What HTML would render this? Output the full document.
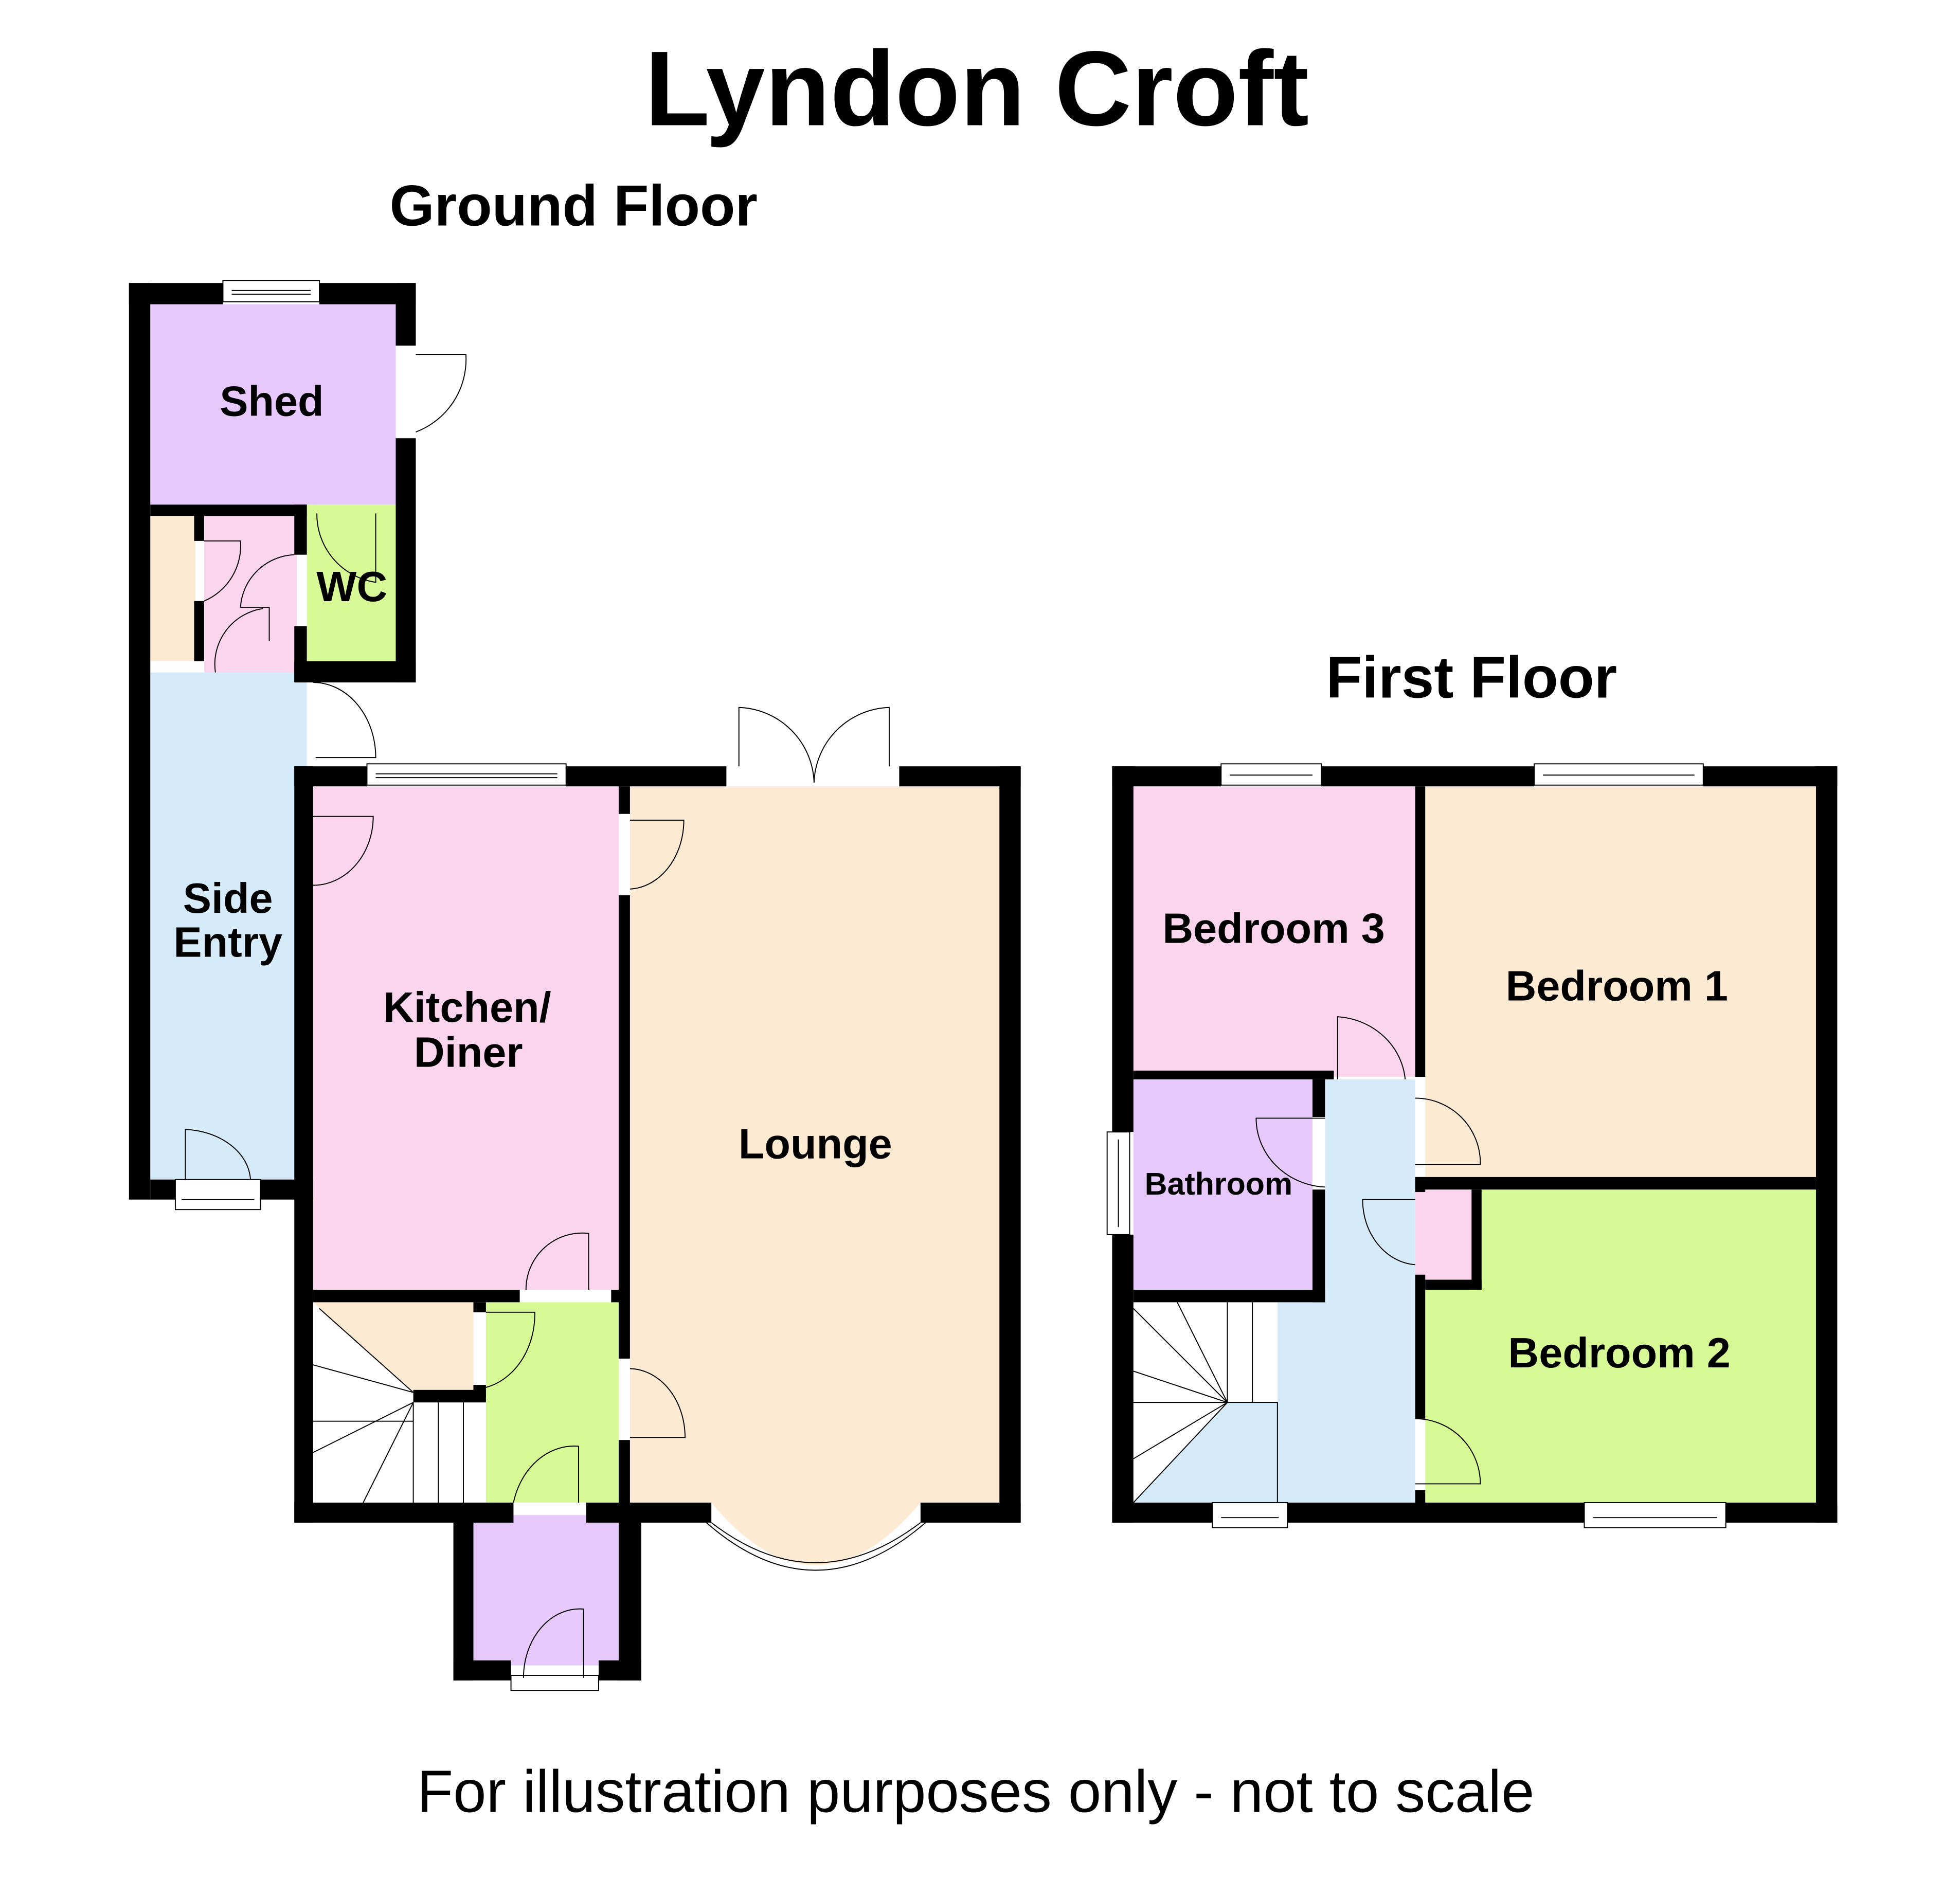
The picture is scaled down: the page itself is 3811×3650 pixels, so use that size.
<!DOCTYPE html>
<html><head><meta charset="utf-8"><style>
html,body{margin:0;padding:0;background:#fff;}
svg{display:block;}
text{font-family:"Liberation Sans",Arial,sans-serif;}
</style></head><body>
<svg width="3811" height="3650" viewBox="0 0 1565 1499" preserveAspectRatio="none" xmlns="http://www.w3.org/2000/svg">
<rect width="1565" height="1499" fill="#fff"/>
<text x="780" y="100" font-size="85" font-weight="bold" text-anchor="middle">Lyndon Croft</text>
<text x="458" y="180" font-size="46" font-weight="bold" text-anchor="middle">Ground Floor</text>
<text x="1175" y="557" font-size="47" font-weight="bold" text-anchor="middle">First Floor</text>
<text x="779" y="1447" font-size="47.5" text-anchor="middle">For illustration purposes only - not to scale</text>

<g stroke="none">
<rect x="120" y="243" width="196" height="160" fill="#e6c8fa"/>
<rect x="120" y="412" width="36" height="116" fill="#fcebd2"/>
<rect x="163" y="412" width="74" height="126" fill="#fbd5ee"/>
<rect x="245" y="403" width="71" height="125" fill="#d8fa96"/>
<rect x="120" y="537" width="125" height="405" fill="#d5ebfa"/>
<rect x="250" y="628" width="244" height="402" fill="#fbd5ee"/>
<rect x="503" y="628" width="295" height="572" fill="#fcebd2"/>
<rect x="250" y="1040" width="138" height="160" fill="#fff"/>
<path d="M250 1040 H378 V1112 H330 Z" fill="#fcebd2"/>
<rect x="388" y="1040" width="106" height="160" fill="#d8fa96"/>
<rect x="378" y="1210" width="116" height="120" fill="#e6c8fa"/>
<path d="M568 1200 Q651 1300 735 1200 Z" fill="#fcebd2"/>

<g fill="#000">
<rect x="103" y="226" width="17" height="732"/>
<rect x="103" y="226" width="75" height="17"/>
<rect x="255" y="226" width="77" height="17"/>
<rect x="316" y="226" width="16" height="50"/>
<rect x="316" y="350" width="16" height="195"/>
<rect x="120" y="403" width="125" height="9"/>
<rect x="155" y="412" width="8" height="20"/>
<rect x="155" y="480" width="8" height="48"/>
<rect x="235" y="403" width="10" height="40"/>
<rect x="235" y="500" width="10" height="45"/>
<rect x="235" y="528" width="97" height="17"/>
<rect x="120" y="942" width="20" height="16"/>
<rect x="208" y="942" width="42" height="16"/>
<rect x="235" y="612" width="15" height="604"/>
<rect x="235" y="612" width="58" height="16"/>
<rect x="452" y="612" width="128" height="16"/>
<rect x="718" y="612" width="97" height="16"/>
<rect x="798" y="612" width="17" height="604"/>
<rect x="494" y="628" width="9" height="22"/>
<rect x="494" y="715" width="9" height="370"/>
<rect x="494" y="1150" width="9" height="60"/>
<rect x="250" y="1030" width="165" height="10"/>
<rect x="488" y="1030" width="10" height="10"/>
<rect x="378" y="1040" width="10" height="8"/>
<rect x="378" y="1106" width="10" height="10"/>
<rect x="330" y="1110" width="58" height="10"/>
<rect x="235" y="1200" width="175" height="16"/>
<rect x="468" y="1200" width="100" height="16"/>
<rect x="735" y="1200" width="80" height="16"/>
<rect x="362" y="1210" width="16" height="132"/>
<rect x="494" y="1210" width="18" height="132"/>
<rect x="362" y="1326" width="46" height="16"/>
<rect x="478" y="1326" width="34" height="16"/>
</g>
</g>

<g fill="#fff" stroke="#000" stroke-width="0.8">
<rect x="178" y="224" width="77" height="17"/><line x1="185" y1="232" x2="248" y2="232"/><line x1="185" y1="235" x2="248" y2="235"/>
<rect x="293" y="610" width="159" height="17"/><line x1="300" y1="618" x2="445" y2="618"/><line x1="300" y1="621" x2="445" y2="621"/>
<rect x="140" y="942" width="68" height="24"/><line x1="145" y1="958" x2="203" y2="958"/>
<rect x="408" y="1338" width="70" height="12"/>
<path d="M568 1216 Q651 1280 735 1216" fill="none"/>
<path d="M564 1216 Q651 1292 739 1216" fill="none"/>
</g>

<g fill="none" stroke="#000" stroke-width="0.8">
<path d="M332 283 H372 A62 62 0 0 1 332 345"/>
<path d="M163 432 H192 A48 48 0 0 1 163 480"/>
<path d="M235 443 A45 45 0 0 0 192 485 H215 V512"/>
<path d="M172 537 A45 45 0 0 1 210 486"/>
<path d="M253 410 A55 55 0 0 0 300 465 V410"/>
<path d="M250 545 A50 60 0 0 1 300 605 H252"/>
<path d="M250 652 H298 A48 55 0 0 1 250 707"/>
<path d="M503 655 H546 A45 55 0 0 1 503 710"/>
<path d="M590 612 V565 A62 62 0 0 1 650 625 A62 62 0 0 1 710 565 V612"/>
<path d="M420 1030 A45 45 0 0 1 470 985 V1030"/>
<path d="M388 1048 H427 A50 60 0 0 1 388 1108"/>
<path d="M503 1093 A45 55 0 0 1 547 1148 H503"/>
<path d="M410 1200 A50 60 0 0 1 462 1155 V1200"/>
<path d="M418 1340 A45 55 0 0 1 466 1285 V1340"/>
<path d="M148 942 V902 A55 42 0 0 1 200 942"/>
<path d="M250 1090 L330 1112 M250 1160 L330 1120 M290 1200 L330 1120 M250 1135 H330 M330 1120 V1200 M350 1120 V1200 M370 1120 V1200 M255 1045 L330 1112"/>
</g>

<rect x="905" y="628" width="225" height="232" fill="#fbd5ee"/>
<rect x="1138" y="628" width="312" height="312" fill="#fcebd2"/>
<rect x="1138" y="950" width="312" height="250" fill="#d8fa96"/>
<rect x="1130" y="950" width="45" height="72" fill="#fbd5ee"/>
<rect x="905" y="862" width="143" height="168" fill="#e6c8fa"/>
<rect x="1058" y="862" width="72" height="338" fill="#d5ebfa"/>
<rect x="1020" y="1040" width="40" height="160" fill="#d5ebfa"/>
<rect x="905" y="1040" width="115" height="160" fill="#fff"/>
<path d="M905 1200 L980 1120 H1020 V1200 Z" fill="#d5ebfa"/>

<g fill="#000">
<rect x="888" y="612" width="87" height="16"/>
<rect x="1055" y="612" width="170" height="16"/>
<rect x="1360" y="612" width="107" height="16"/>
<rect x="888" y="612" width="17" height="292"/>
<rect x="888" y="986" width="17" height="230"/>
<rect x="1450" y="612" width="17" height="604"/>
<rect x="888" y="1200" width="80" height="16"/>
<rect x="1028" y="1200" width="237" height="16"/>
<rect x="1378" y="1200" width="89" height="16"/>
<rect x="1130" y="628" width="8" height="232"/>
<rect x="1130" y="940" width="320" height="10"/>
<rect x="1130" y="940" width="8" height="12"/>
<rect x="1130" y="1018" width="8" height="115"/>
<rect x="1130" y="1190" width="8" height="12"/>
<rect x="1175" y="950" width="8" height="80"/>
<rect x="1138" y="1022" width="45" height="8"/>
<rect x="905" y="855" width="160" height="7"/>
<rect x="1048" y="862" width="10" height="30"/>
<rect x="1048" y="950" width="10" height="90"/>
<rect x="905" y="1030" width="153" height="10"/>
</g>
<g fill="#fff" stroke="#000" stroke-width="0.8">
<rect x="975" y="610" width="80" height="17"/><line x1="982" y1="619" x2="1048" y2="619"/>
<rect x="1225" y="610" width="135" height="17"/><line x1="1232" y1="619" x2="1353" y2="619"/>
<rect x="884" y="904" width="18" height="82"/><line x1="893" y1="910" x2="893" y2="980"/>
<rect x="968" y="1200" width="60" height="20"/><line x1="975" y1="1212" x2="1021" y2="1212"/>
<rect x="1265" y="1200" width="113" height="20"/><line x1="1272" y1="1212" x2="1371" y2="1212"/>
</g>
<g fill="none" stroke="#000" stroke-width="0.8">
<path d="M1068 862 V812 A58 55 0 0 1 1122 862"/>
<path d="M1130 877 A52 52 0 0 1 1182 930 H1130"/>
<path d="M1058 893 H1003 A58 55 0 0 0 1058 948"/>
<path d="M1130 958 H1088 A45 52 0 0 0 1130 1010"/>
<path d="M1130 1133 A52 52 0 0 1 1182 1185 H1130"/>
<path d="M905 1045 L980 1120 M905 1095 L980 1120 M905 1120 H980 M905 1165 L980 1120 M905 1200 L980 1120 M940 1040 L980 1120 M980 1120 H1020 V1200 M1000 1040 V1120 M980 1040 V1120"/>
</g>

<g font-size="34" font-weight="bold" text-anchor="middle">
<text x="217" y="332">Shed</text>
<text x="281" y="480">WC</text>
<text x="182" y="729">Side</text>
<text x="182" y="764">Entry</text>
<text x="373" y="816">Kitchen/</text>
<text x="374" y="852">Diner</text>
<text x="651" y="925">Lounge</text>
<text x="1017" y="753">Bedroom 3</text>
<text x="1291" y="799">Bedroom 1</text>
<text x="1293" y="1092">Bedroom 2</text>
<text x="973" y="954" font-size="25">Bathroom</text>
</g>
</svg>
</body></html>
